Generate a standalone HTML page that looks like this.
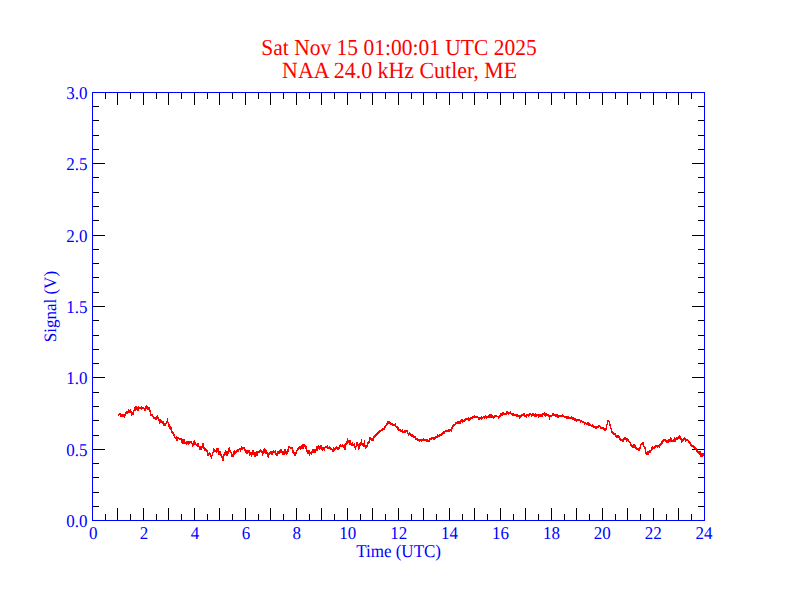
<!DOCTYPE html>
<html><head><meta charset="utf-8"><style>
html,body{margin:0;padding:0;background:#fff;}
svg{display:block;}
text{font-family:"Liberation Serif",serif;text-rendering:geometricPrecision;}
</style></head><body>
<svg width="792" height="612" viewBox="0 0 792 612">
<rect width="792" height="612" fill="#fff"/>
<g fill="#ff0000" font-size="21.5" text-anchor="middle">
<text transform="translate(399 55) scale(1 1.06)">Sat Nov 15 01:00:01 UTC 2025</text>
<text transform="translate(399.6 77.6) scale(1 1.06)" font-size="21.9">NAA 24.0 kHz Cutler, ME</text>
</g>
<path d="M105.5 93v6M105.5 520v-6M117.5 93v12M117.5 520v-12M130.5 93v6M130.5 520v-6M143.5 93v12M143.5 520v-12M156.5 93v6M156.5 520v-6M168.5 93v12M168.5 520v-12M181.5 93v6M181.5 520v-6M194.5 93v12M194.5 520v-12M207.5 93v6M207.5 520v-6M219.5 93v12M219.5 520v-12M232.5 93v6M232.5 520v-6M245.5 93v12M245.5 520v-12M258.5 93v6M258.5 520v-6M270.5 93v12M270.5 520v-12M283.5 93v6M283.5 520v-6M296.5 93v12M296.5 520v-12M309.5 93v6M309.5 520v-6M321.5 93v12M321.5 520v-12M334.5 93v6M334.5 520v-6M347.5 93v12M347.5 520v-12M360.5 93v6M360.5 520v-6M372.5 93v12M372.5 520v-12M385.5 93v6M385.5 520v-6M398.5 93v12M398.5 520v-12M411.5 93v6M411.5 520v-6M423.5 93v12M423.5 520v-12M436.5 93v6M436.5 520v-6M449.5 93v12M449.5 520v-12M462.5 93v6M462.5 520v-6M474.5 93v12M474.5 520v-12M487.5 93v6M487.5 520v-6M500.5 93v12M500.5 520v-12M513.5 93v6M513.5 520v-6M525.5 93v12M525.5 520v-12M538.5 93v6M538.5 520v-6M551.5 93v12M551.5 520v-12M564.5 93v6M564.5 520v-6M576.5 93v12M576.5 520v-12M589.5 93v6M589.5 520v-6M602.5 93v12M602.5 520v-12M615.5 93v6M615.5 520v-6M627.5 93v12M627.5 520v-12M640.5 93v6M640.5 520v-6M653.5 93v12M653.5 520v-12M666.5 93v6M666.5 520v-6M678.5 93v12M678.5 520v-12M691.5 93v6M691.5 520v-6M93 106.5h6M704 106.5h-6M93 120.5h6M704 120.5h-6M93 135.5h6M704 135.5h-6M93 149.5h6M704 149.5h-6M93 163.5h12M704 163.5h-12M93 177.5h6M704 177.5h-6M93 192.5h6M704 192.5h-6M93 206.5h6M704 206.5h-6M93 220.5h6M704 220.5h-6M93 235.5h12M704 235.5h-12M93 249.5h6M704 249.5h-6M93 263.5h6M704 263.5h-6M93 277.5h6M704 277.5h-6M93 292.5h6M704 292.5h-6M93 306.5h12M704 306.5h-12M93 320.5h6M704 320.5h-6M93 335.5h6M704 335.5h-6M93 349.5h6M704 349.5h-6M93 363.5h6M704 363.5h-6M93 377.5h12M704 377.5h-12M93 392.5h6M704 392.5h-6M93 406.5h6M704 406.5h-6M93 420.5h6M704 420.5h-6M93 435.5h6M704 435.5h-6M93 449.5h12M704 449.5h-12M93 463.5h6M704 463.5h-6M93 477.5h6M704 477.5h-6M93 492.5h6M704 492.5h-6M93 506.5h6M704 506.5h-6" stroke="#000" stroke-width="1" fill="none"/>
<path d="M118 414h1v2h-1zM119 413h1v2h-1zM120 413h1v4h-1zM121 414h1v3h-1zM122 414h1v3h-1zM123 414h1v3h-1zM124 414h1v4h-1zM125 412h1v4h-1zM126 411h1v3h-1zM127 411h1v3h-1zM128 409h1v4h-1zM129 410h1v3h-1zM130 409h1v4h-1zM131 411h1v5h-1zM132 412h1v3h-1zM133 410h1v5h-1zM134 407h1v4h-1zM135 406h1v5h-1zM136 406h1v4h-1zM137 407h1v4h-1zM138 406h1v5h-1zM139 407h1v2h-1zM140 407h1v2h-1zM141 406h1v4h-1zM142 407h1v2h-1zM143 407h1v2h-1zM144 408h1v3h-1zM145 406h1v5h-1zM146 405h1v4h-1zM147 406h1v4h-1zM148 407h1v3h-1zM149 407h1v5h-1zM150 410h1v6h-1zM151 414h1v2h-1zM152 414h1v3h-1zM153 416h1v3h-1zM154 417h1v2h-1zM155 417h1v3h-1zM156 416h1v4h-1zM157 415h1v4h-1zM158 417h1v4h-1zM159 419h1v5h-1zM160 419h1v4h-1zM161 420h1v3h-1zM162 421h1v3h-1zM163 421h1v5h-1zM164 423h1v3h-1zM165 423h1v3h-1zM166 421h1v3h-1zM167 418h1v5h-1zM168 422h1v5h-1zM169 424h1v5h-1zM170 426h1v4h-1zM171 427h1v6h-1zM172 431h1v3h-1zM173 432h1v4h-1zM174 434h1v4h-1zM175 437h1v2h-1zM176 436h1v5h-1zM177 437h1v4h-1zM178 437h1v2h-1zM179 438h1v2h-1zM180 438h1v2h-1zM181 438h1v5h-1zM182 439h1v5h-1zM183 439h1v5h-1zM184 439h1v5h-1zM185 442h1v2h-1zM186 441h1v4h-1zM187 441h1v3h-1zM188 441h1v4h-1zM189 441h1v3h-1zM190 441h1v2h-1zM191 441h1v3h-1zM192 443h1v4h-1zM193 441h1v5h-1zM194 440h1v5h-1zM195 442h1v3h-1zM196 444h1v2h-1zM197 443h1v4h-1zM198 443h1v4h-1zM199 446h1v4h-1zM200 446h1v4h-1zM201 446h1v4h-1zM202 443h1v5h-1zM203 443h1v6h-1zM204 447h1v4h-1zM205 448h1v3h-1zM206 449h1v3h-1zM207 450h1v6h-1zM208 453h1v3h-1zM209 452h1v3h-1zM210 453h1v4h-1zM211 455h1v4h-1zM212 452h1v4h-1zM213 448h1v5h-1zM214 449h1v3h-1zM215 450h1v2h-1zM216 448h1v5h-1zM217 448h1v4h-1zM218 448h1v7h-1zM219 451h1v4h-1zM220 451h1v5h-1zM221 454h1v4h-1zM222 456h1v5h-1zM223 454h1v7h-1zM224 452h1v4h-1zM225 450h1v5h-1zM226 451h1v5h-1zM227 451h1v5h-1zM228 448h1v6h-1zM229 447h1v5h-1zM230 450h1v3h-1zM231 452h1v5h-1zM232 454h1v3h-1zM233 451h1v6h-1zM234 450h1v5h-1zM235 451h1v3h-1zM236 450h1v3h-1zM237 449h1v3h-1zM238 449h1v3h-1zM239 448h1v2h-1zM240 448h1v4h-1zM241 446h1v4h-1zM242 447h1v3h-1zM243 447h1v2h-1zM244 447h1v4h-1zM245 449h1v4h-1zM246 450h1v4h-1zM247 450h1v4h-1zM248 450h1v3h-1zM249 450h1v6h-1zM250 452h1v3h-1zM251 452h1v5h-1zM252 450h1v5h-1zM253 450h1v5h-1zM254 452h1v5h-1zM255 452h1v5h-1zM256 451h1v5h-1zM257 451h1v5h-1zM258 451h1v2h-1zM259 450h1v3h-1zM260 449h1v3h-1zM261 450h1v3h-1zM262 451h1v5h-1zM263 449h1v5h-1zM264 448h1v5h-1zM265 449h1v5h-1zM266 450h1v4h-1zM267 452h1v5h-1zM268 453h1v5h-1zM269 452h1v3h-1zM270 451h1v3h-1zM271 451h1v4h-1zM272 451h1v4h-1zM273 450h1v3h-1zM274 451h1v2h-1zM275 450h1v5h-1zM276 453h1v3h-1zM277 451h1v5h-1zM278 451h1v3h-1zM279 450h1v4h-1zM280 449h1v4h-1zM281 449h1v4h-1zM282 451h1v4h-1zM283 451h1v4h-1zM284 449h1v6h-1zM285 449h1v5h-1zM286 451h1v4h-1zM287 449h1v5h-1zM288 446h1v6h-1zM289 446h1v2h-1zM290 447h1v2h-1zM291 447h1v2h-1zM292 447h1v6h-1zM293 450h1v4h-1zM294 452h1v4h-1zM295 452h1v4h-1zM296 450h1v4h-1zM297 448h1v3h-1zM298 447h1v3h-1zM299 446h1v3h-1zM300 446h1v4h-1zM301 445h1v4h-1zM302 444h1v5h-1zM303 444h1v5h-1zM304 444h1v3h-1zM305 445h1v4h-1zM306 446h1v6h-1zM307 450h1v4h-1zM308 450h1v4h-1zM309 450h1v6h-1zM310 452h1v2h-1zM311 451h1v4h-1zM312 449h1v4h-1zM313 449h1v4h-1zM314 449h1v4h-1zM315 449h1v4h-1zM316 446h1v5h-1zM317 446h1v5h-1zM318 445h1v4h-1zM319 446h1v4h-1zM320 445h1v4h-1zM321 445h1v5h-1zM322 447h1v4h-1zM323 447h1v3h-1zM324 447h1v4h-1zM325 446h1v2h-1zM326 446h1v2h-1zM327 445h1v4h-1zM328 447h1v2h-1zM329 446h1v3h-1zM330 447h1v3h-1zM331 448h1v2h-1zM332 449h1v3h-1zM333 447h1v5h-1zM334 448h1v3h-1zM335 447h1v3h-1zM336 446h1v3h-1zM337 447h1v3h-1zM338 447h1v3h-1zM339 445h1v4h-1zM340 444h1v3h-1zM341 445h1v2h-1zM342 444h1v3h-1zM343 445h1v3h-1zM344 444h1v6h-1zM345 443h1v7h-1zM346 441h1v4h-1zM347 438h1v6h-1zM348 440h1v3h-1zM349 440h1v5h-1zM350 440h1v5h-1zM351 443h1v3h-1zM352 442h1v4h-1zM353 444h1v2h-1zM354 443h1v5h-1zM355 446h1v4h-1zM356 442h1v5h-1zM357 442h1v4h-1zM358 444h1v6h-1zM359 443h1v6h-1zM360 442h1v4h-1zM361 439h1v6h-1zM362 443h1v3h-1zM363 443h1v4h-1zM364 440h1v7h-1zM365 445h1v4h-1zM366 445h1v3h-1zM367 442h1v5h-1zM368 441h1v3h-1zM369 437h1v6h-1zM370 437h1v3h-1zM371 438h1v3h-1zM372 438h1v3h-1zM373 436h1v5h-1zM374 435h1v3h-1zM375 434h1v3h-1zM376 433h1v3h-1zM377 432h1v3h-1zM378 431h1v3h-1zM379 430h1v3h-1zM380 430h1v2h-1zM381 429h1v2h-1zM382 428h1v3h-1zM383 428h1v2h-1zM384 426h1v4h-1zM385 425h1v3h-1zM386 423h1v3h-1zM387 421h1v4h-1zM388 421h1v3h-1zM389 421h1v3h-1zM390 422h1v3h-1zM391 423h1v2h-1zM392 423h1v3h-1zM393 424h1v2h-1zM394 424h1v2h-1zM395 423h1v4h-1zM396 426h1v2h-1zM397 426h1v4h-1zM398 427h1v4h-1zM399 429h1v2h-1zM400 429h1v3h-1zM401 430h1v2h-1zM402 429h1v4h-1zM403 431h1v2h-1zM404 430h1v3h-1zM405 430h1v3h-1zM406 430h1v2h-1zM407 430h1v4h-1zM408 433h1v3h-1zM409 432h1v3h-1zM410 433h1v3h-1zM411 434h1v3h-1zM412 434h1v3h-1zM413 435h1v3h-1zM414 436h1v2h-1zM415 436h1v4h-1zM416 438h1v2h-1zM417 438h1v3h-1zM418 439h1v2h-1zM419 439h1v3h-1zM420 439h1v2h-1zM421 439h1v3h-1zM422 439h1v2h-1zM423 438h1v3h-1zM424 439h1v2h-1zM425 439h1v2h-1zM426 439h1v3h-1zM427 439h1v3h-1zM428 440h1v2h-1zM429 438h1v4h-1zM430 438h1v2h-1zM431 437h1v3h-1zM432 437h1v2h-1zM433 437h1v3h-1zM434 437h1v3h-1zM435 436h1v3h-1zM436 436h1v2h-1zM437 434h1v4h-1zM438 435h1v2h-1zM439 434h1v3h-1zM440 434h1v2h-1zM441 433h1v3h-1zM442 432h1v3h-1zM443 431h1v3h-1zM444 431h1v3h-1zM445 430h1v2h-1zM446 430h1v2h-1zM447 430h1v2h-1zM448 429h1v3h-1zM449 429h1v3h-1zM450 429h1v2h-1zM451 427h1v5h-1zM452 425h1v4h-1zM453 424h1v3h-1zM454 424h1v2h-1zM455 422h1v3h-1zM456 422h1v2h-1zM457 421h1v3h-1zM458 421h1v3h-1zM459 421h1v3h-1zM460 420h1v4h-1zM461 419h1v3h-1zM462 419h1v4h-1zM463 420h1v2h-1zM464 419h1v3h-1zM465 418h1v3h-1zM466 418h1v2h-1zM467 418h1v2h-1zM468 417h1v4h-1zM469 418h1v3h-1zM470 417h1v3h-1zM471 417h1v2h-1zM472 416h1v3h-1zM473 416h1v2h-1zM474 415h1v3h-1zM475 416h1v2h-1zM476 416h1v2h-1zM477 416h1v2h-1zM478 417h1v3h-1zM479 417h1v3h-1zM480 417h1v2h-1zM481 416h1v4h-1zM482 417h1v2h-1zM483 416h1v2h-1zM484 416h1v3h-1zM485 415h1v3h-1zM486 416h1v3h-1zM487 416h1v2h-1zM488 415h1v3h-1zM489 414h1v4h-1zM490 414h1v4h-1zM491 414h1v4h-1zM492 415h1v3h-1zM493 416h1v3h-1zM494 415h1v3h-1zM495 415h1v2h-1zM496 415h1v2h-1zM497 416h1v1h-1zM498 416h1v3h-1zM499 415h1v3h-1zM500 413h1v4h-1zM501 413h1v3h-1zM502 412h1v4h-1zM503 412h1v3h-1zM504 413h1v2h-1zM505 413h1v2h-1zM506 411h1v4h-1zM507 411h1v3h-1zM508 412h1v3h-1zM509 412h1v2h-1zM510 411h1v3h-1zM511 413h1v2h-1zM512 413h1v3h-1zM513 413h1v3h-1zM514 414h1v2h-1zM515 414h1v2h-1zM516 414h1v3h-1zM517 414h1v3h-1zM518 415h1v2h-1zM519 415h1v4h-1zM520 415h1v3h-1zM521 414h1v3h-1zM522 414h1v2h-1zM523 413h1v3h-1zM524 413h1v4h-1zM525 415h1v2h-1zM526 414h1v4h-1zM527 414h1v2h-1zM528 414h1v3h-1zM529 413h1v3h-1zM530 413h1v2h-1zM531 414h1v3h-1zM532 413h1v3h-1zM533 413h1v3h-1zM534 414h1v3h-1zM535 413h1v4h-1zM536 414h1v3h-1zM537 414h1v2h-1zM538 414h1v4h-1zM539 414h1v3h-1zM540 414h1v3h-1zM541 414h1v3h-1zM542 413h1v4h-1zM543 413h1v2h-1zM544 412h1v4h-1zM545 413h1v4h-1zM546 413h1v3h-1zM547 414h1v2h-1zM548 414h1v3h-1zM549 415h1v5h-1zM550 415h1v2h-1zM551 415h1v2h-1zM552 413h1v3h-1zM553 413h1v3h-1zM554 414h1v2h-1zM555 414h1v3h-1zM556 414h1v3h-1zM557 414h1v4h-1zM558 415h1v3h-1zM559 415h1v2h-1zM560 415h1v2h-1zM561 415h1v2h-1zM562 414h1v3h-1zM563 415h1v2h-1zM564 416h1v2h-1zM565 416h1v2h-1zM566 416h1v3h-1zM567 416h1v3h-1zM568 416h1v3h-1zM569 417h1v2h-1zM570 417h1v2h-1zM571 416h1v3h-1zM572 417h1v3h-1zM573 417h1v3h-1zM574 418h1v3h-1zM575 418h1v3h-1zM576 419h1v3h-1zM577 419h1v2h-1zM578 419h1v2h-1zM579 419h1v2h-1zM580 420h1v3h-1zM581 420h1v2h-1zM582 421h1v2h-1zM583 421h1v2h-1zM584 422h1v3h-1zM585 422h1v2h-1zM586 423h1v2h-1zM587 422h1v3h-1zM588 422h1v4h-1zM589 423h1v3h-1zM590 424h1v2h-1zM591 425h1v2h-1zM592 424h1v3h-1zM593 425h1v3h-1zM594 426h1v2h-1zM595 426h1v3h-1zM596 426h1v3h-1zM597 426h1v2h-1zM598 425h1v3h-1zM599 425h1v2h-1zM600 426h1v3h-1zM601 427h1v2h-1zM602 427h1v2h-1zM603 427h1v3h-1zM604 428h1v3h-1zM605 428h1v3h-1zM606 424h1v6h-1zM607 420h1v5h-1zM608 420h1v2h-1zM609 421h1v5h-1zM610 424h1v5h-1zM611 428h1v5h-1zM612 431h1v3h-1zM613 432h1v3h-1zM614 433h1v2h-1zM615 433h1v4h-1zM616 435h1v3h-1zM617 435h1v3h-1zM618 435h1v3h-1zM619 436h1v4h-1zM620 438h1v3h-1zM621 439h1v2h-1zM622 439h1v3h-1zM623 438h1v4h-1zM624 437h1v3h-1zM625 437h1v3h-1zM626 438h1v4h-1zM627 438h1v3h-1zM628 439h1v3h-1zM629 441h1v2h-1zM630 442h1v4h-1zM631 444h1v3h-1zM632 445h1v3h-1zM633 444h1v4h-1zM634 444h1v4h-1zM635 445h1v4h-1zM636 447h1v3h-1zM637 448h1v2h-1zM638 448h1v3h-1zM639 447h1v4h-1zM640 444h1v5h-1zM641 443h1v2h-1zM642 442h1v3h-1zM643 442h1v5h-1zM644 446h1v3h-1zM645 447h1v7h-1zM646 452h1v3h-1zM647 451h1v4h-1zM648 451h1v4h-1zM649 450h1v3h-1zM650 450h1v3h-1zM651 447h1v4h-1zM652 446h1v4h-1zM653 447h1v2h-1zM654 446h1v3h-1zM655 445h1v3h-1zM656 445h1v2h-1zM657 445h1v3h-1zM658 445h1v2h-1zM659 444h1v4h-1zM660 443h1v3h-1zM661 441h1v4h-1zM662 440h1v4h-1zM663 439h1v3h-1zM664 439h1v2h-1zM665 439h1v3h-1zM666 440h1v3h-1zM667 440h1v3h-1zM668 439h1v4h-1zM669 439h1v3h-1zM670 437h1v5h-1zM671 438h1v4h-1zM672 440h1v2h-1zM673 439h1v3h-1zM674 437h1v5h-1zM675 438h1v4h-1zM676 437h1v3h-1zM677 437h1v3h-1zM678 436h1v3h-1zM679 435h1v4h-1zM680 436h1v4h-1zM681 438h1v5h-1zM682 439h1v3h-1zM683 438h1v3h-1zM684 437h1v3h-1zM685 438h1v4h-1zM686 439h1v2h-1zM687 439h1v2h-1zM688 440h1v3h-1zM689 441h1v3h-1zM690 442h1v4h-1zM691 444h1v3h-1zM692 445h1v2h-1zM693 445h1v3h-1zM694 446h1v3h-1zM695 447h1v3h-1zM696 448h1v4h-1zM697 450h1v3h-1zM698 451h1v3h-1zM699 451h1v4h-1zM700 451h1v6h-1zM701 453h1v4h-1zM702 453h1v4h-1zM703 453h1v3h-1z" fill="#ff0000" shape-rendering="crispEdges"/>
<rect x="92.5" y="92.5" width="612.0" height="428.0" stroke="#0000ff" stroke-width="1" fill="none"/>
<g fill="#0000ff" font-size="17" text-anchor="middle"><text transform="translate(93.20 539) scale(1 1.06)">0</text><text transform="translate(144.11 539) scale(1 1.06)">2</text><text transform="translate(195.02 539) scale(1 1.06)">4</text><text transform="translate(245.93 539) scale(1 1.06)">6</text><text transform="translate(296.84 539) scale(1 1.06)">8</text><text transform="translate(347.75 539) scale(1 1.06)">10</text><text transform="translate(398.66 539) scale(1 1.06)">12</text><text transform="translate(449.57 539) scale(1 1.06)">14</text><text transform="translate(500.48 539) scale(1 1.06)">16</text><text transform="translate(551.39 539) scale(1 1.06)">18</text><text transform="translate(602.30 539) scale(1 1.06)">20</text><text transform="translate(653.21 539) scale(1 1.06)">22</text><text transform="translate(704.12 539) scale(1 1.06)">24</text></g>
<g fill="#0000ff" font-size="17" text-anchor="end"><text transform="translate(87.5 526.90) scale(1 1.06)">0.0</text><text transform="translate(87.5 455.57) scale(1 1.06)">0.5</text><text transform="translate(87.5 384.23) scale(1 1.06)">1.0</text><text transform="translate(87.5 312.90) scale(1 1.06)">1.5</text><text transform="translate(87.5 241.57) scale(1 1.06)">2.0</text><text transform="translate(87.5 170.23) scale(1 1.06)">2.5</text><text transform="translate(87.5 98.90) scale(1 1.06)">3.0</text></g>
<g fill="#0000ff" font-size="17" text-anchor="middle">
<text transform="translate(398.6 556.8) scale(1 1.06)">Time (UTC)</text>
<text transform="translate(56 306.6) rotate(-90) scale(1 1.03)">Signal (V)</text>
</g>
</svg>
</body></html>
